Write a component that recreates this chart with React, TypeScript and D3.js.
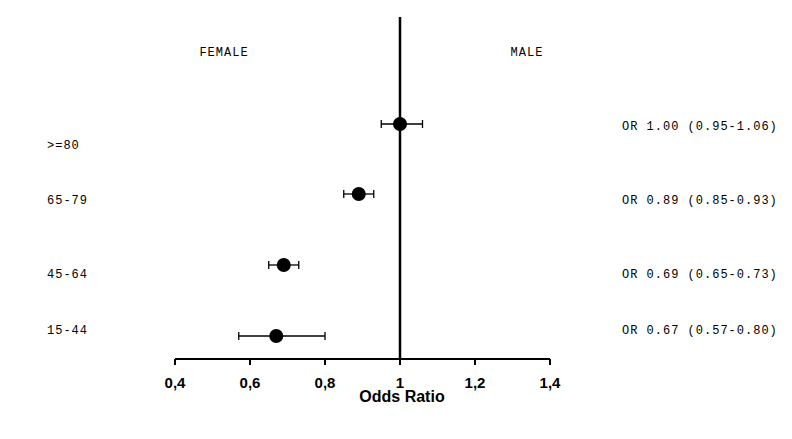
import React from "react";
import * as d3 from "d3";

// Age groups, from the top row to the bottom row
const ageGroups = [">=80", "65-79", "45-64", "15-44"];
const oddsRatios = [1.0, 0.89, 0.69, 0.67];
const ciLower = [0.95, 0.85, 0.65, 0.57];
const ciUpper = [1.06, 0.93, 0.73, 0.8];
const orLabels = [
  "OR 1.00 (0.95-1.06)",
  "OR 0.89 (0.85-0.93)",
  "OR 0.69 (0.65-0.73)",
  "OR 0.67 (0.57-0.80)",
];
const xTicks = [0.4, 0.6, 0.8, 1, 1.2, 1.4];
const xTickLabels = ["0,4", "0,6", "0,8", "1", "1,2", "1,4"];

const W = 792;
const H = 439;

export default function App() {
  const x = d3.scaleLinear().domain([0.4, 1.4]).range([175, 550]);
  // row positions of the markers
  const pointRows = [124, 194, 265, 336];
  // text rows for the left and right columns
  const leftTextY = [144, 199, 273, 329];
  const rightTextY = [125, 199, 273, 329];
  const axisY = 359;
  const mono = "'Liberation Mono', 'DejaVu Sans Mono', monospace";
  const sans = "Arial, 'Liberation Sans', sans-serif";
  const capH = 4;

  return (
    <svg
      width={W}
      height={H}
      style={{ position: "absolute", left: 0, top: 0, background: "#fff" }}
    >
      {/* headers */}
      <text x={224} y={56} fontFamily={mono} fontSize={12} letterSpacing={1} textAnchor="middle" fill="#000">
        FEMALE
      </text>
      <text x={527} y={56} fontFamily={mono} fontSize={12} letterSpacing={1} textAnchor="middle" fill="#000">
        MALE
      </text>

      {/* reference line at OR = 1 */}
      <line x1={x(1)} x2={x(1)} y1={17} y2={axisY} stroke="#000" strokeWidth={2.5} />

      {/* x axis */}
      <line x1={x(0.4)} x2={x(1.4)} y1={axisY} y2={axisY} stroke="#000" strokeWidth={2} />
      {xTicks.map((t, i) => (
        <g key={t}>
          <line x1={x(t)} x2={x(t)} y1={axisY} y2={axisY + 6} stroke="#000" strokeWidth={2} />
          <text
            x={x(t)}
            y={388}
            textAnchor="middle"
            fontFamily={sans}
            fontWeight="bold"
            fontSize={15}
            fill="#000"
          >
            {xTickLabels[i]}
          </text>
        </g>
      ))}
      <text x={402} y={402} textAnchor="middle" fontFamily={sans} fontWeight="bold" fontSize={16} fill="#000">
        Odds Ratio
      </text>

      {/* estimates with confidence intervals */}
      {ageGroups.map((g, i) => {
        const cy = pointRows[i];
        return (
          <g key={g}>
            <line x1={x(ciLower[i])} x2={x(ciUpper[i])} y1={cy} y2={cy} stroke="#000" strokeWidth={1.3} />
            <line x1={x(ciLower[i])} x2={x(ciLower[i])} y1={cy - capH} y2={cy + capH} stroke="#000" strokeWidth={1.3} />
            <line x1={x(ciUpper[i])} x2={x(ciUpper[i])} y1={cy - capH} y2={cy + capH} stroke="#000" strokeWidth={1.3} />
            <circle cx={x(oddsRatios[i])} cy={cy} r={7} fill="#000" />
          </g>
        );
      })}

      {/* age group labels */}
      {ageGroups.map((g, i) => (
        <text key={g} x={47} y={leftTextY[i] + 4.5} fontFamily={mono} fontSize={12} letterSpacing={1} fill="#000">
          {g}
        </text>
      ))}

      {/* odds ratio annotations */}
      {orLabels.map((s, i) => (
        <text key={s} x={622} y={rightTextY[i] + 4.5} fontFamily={mono} fontSize={12} letterSpacing={1} fill="#000">
          {s}
        </text>
      ))}
    </svg>
  );
}
